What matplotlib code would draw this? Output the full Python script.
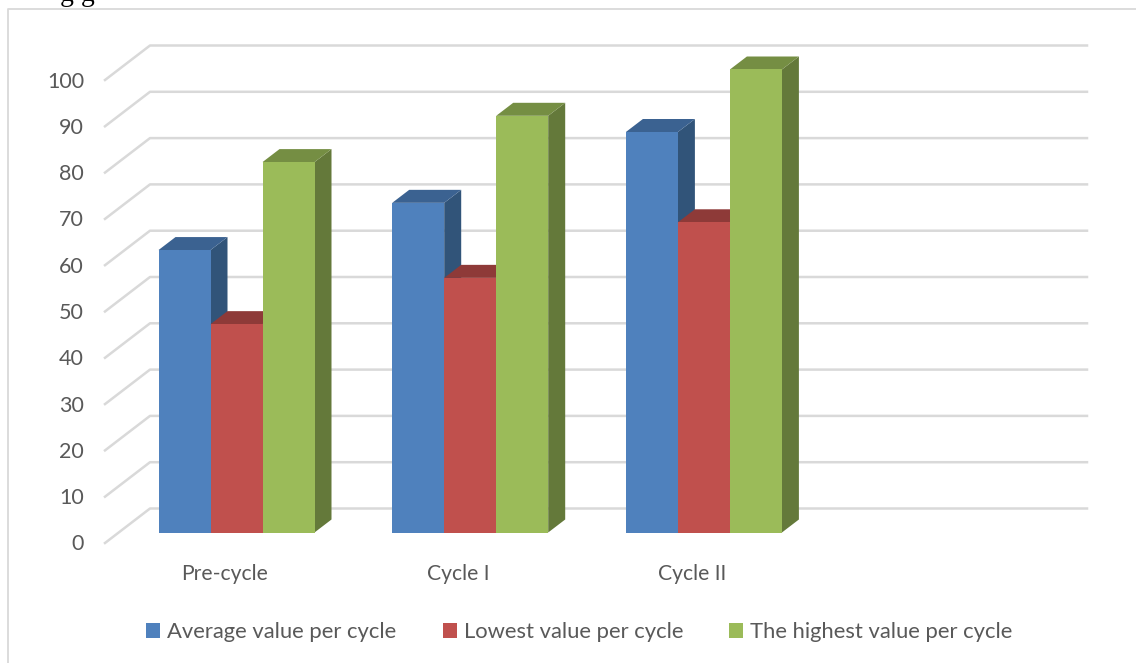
import matplotlib
matplotlib.use('Agg')
import matplotlib.pyplot as plt
from matplotlib.patches import Polygon, Patch
##########################################################
plt.rcParams['font.family'] = ['Lato', 'DejaVu Sans']

categories = ['Pre-cycle', 'Cycle I', 'Cycle II']
average_value = [61, 71.2, 86.5]
lowest_value = [45, 55, 67]
highest_value = [80, 90, 100]
y_ticks = [0, 10, 20, 30, 40, 50, 60, 70, 80, 90, 100]

series_names = ['Average value per cycle', 'Lowest value per cycle',
                'The highest value per cycle']
front_colors = ['#4F81BD', '#C0504D', '#9BBB59']
top_colors = ['#3B6291', '#8E3A38', '#758E43']
side_colors = ['#315479', '#7F3432', '#64793A']
##########################################################
W, H = 1136, 663
# one bar is 52 px wide, one value unit is 4.63 px high
PX_X, PX_Y = 52.0, 4.63
X0_PX, Y0_PX = 158.5, 532.5

fig = plt.figure(figsize=(W / 100, H / 100), dpi=100)
ax = fig.add_axes([0, 0, 1, 1])
ax.set_xlim(-X0_PX / PX_X, (W - X0_PX) / PX_X)
ax.set_ylim((Y0_PX - H) / PX_Y, Y0_PX / PX_Y)
ax.axis('off')

grey = '#D9D9D9'
text_col = '#595959'

# chart frame, cut by the picture edge
px = ax.transData.inverted().transform
def P(x, y):
    return px((x, H - y))

frame = [P(8, H + 2), P(8, 9.5), P(W + 2, 9.5)]
ax.plot([p[0] for p in frame], [p[1] for p in frame], color=grey, lw=1.3)

# back wall gridlines with the floor slant
wall_dx, wall_dy = 45 / PX_X, 34.5 / PX_Y
front_shift = -10.5 / PX_Y
x_left = -53.5 / PX_X
x_right = (1087 - X0_PX) / PX_X
for v in y_ticks:
    yf = v + front_shift
    ax.plot([x_left, x_left + wall_dx, x_right],
            [yf, yf + wall_dy, yf + wall_dy], color=grey, lw=1.8, zorder=1)
    ax.text(x_left - 21 / PX_X, yf - 1.5 / PX_Y, str(v), ha='right', va='center',
            fontsize=15.5, color=text_col)

# bars
depth_x, depth_y = 17 / PX_X, 13 / PX_Y
group_step = 233.7 / PX_X
all_series = [average_value, lowest_value, highest_value]
for g in range(len(categories)):
    for s, values in enumerate(all_series):
        v = values[g]
        x1 = g * group_step + s
        x2 = x1 + 1
        side = Polygon([(x2, 0), (x2 + depth_x, depth_y),
                        (x2 + depth_x, v + depth_y), (x2, v)],
                       fc=side_colors[s], ec='none', zorder=3)
        top = Polygon([(x1, v), (x2, v), (x2 + depth_x, v + depth_y),
                       (x1 + depth_x, v + depth_y)],
                      fc=top_colors[s], ec='none', zorder=3)
        ax.add_patch(side)
        ax.add_patch(top)
        ax.bar(x1, v, width=1, align='edge', color=front_colors[s], zorder=3)
    ax.text(g * group_step + 1.27, -42 / PX_Y, categories[g], ha='center',
            va='center', fontsize=15.2, color=text_col)

handles = [Patch(fc=c, ec='none') for c in front_colors]
ax.legend(handles, series_names, ncols=3, frameon=False, fontsize=15.8,
          labelcolor=text_col, loc='center', bbox_to_anchor=(579.5 / W, 1 - 632 / H),
          handlelength=0.64, handleheight=0.64, handletextpad=0.32,
          columnspacing=2.1, borderpad=0, borderaxespad=0)

# descenders of the page text above the chart
ax.text(*P(60, -5), 'g g', family='Liberation Serif', fontsize=20, color='black',
        ha='left', va='center', clip_on=True)

fig.savefig('out.png', dpi=100)
